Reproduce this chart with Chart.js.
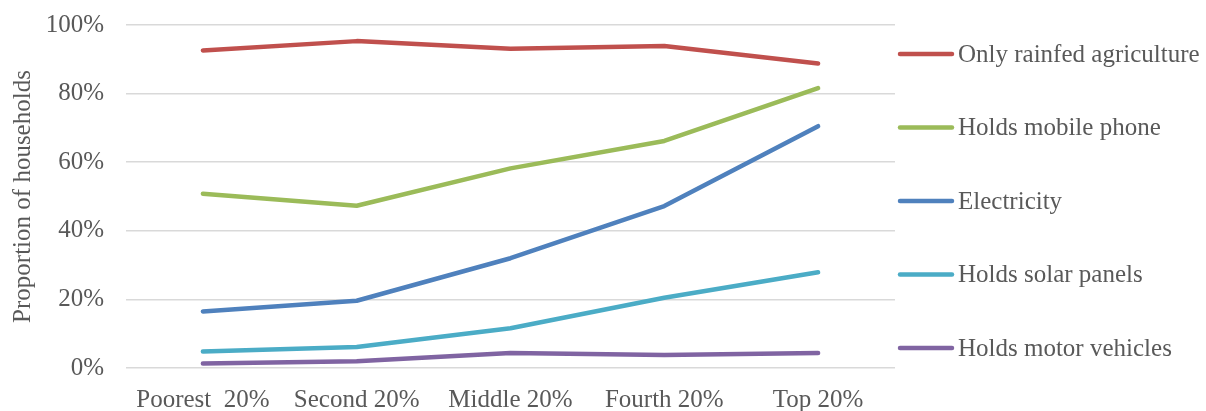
<!DOCTYPE html>
<html>
<head>
<meta charset="utf-8">
<script src="https://cdn.jsdelivr.net/npm/chart.js@4/dist/chart.umd.min.js"></script>
<style>
  html, body { margin: 0; padding: 0; background: #fff; }
  #wrap { width: 1206px; height: 411px; }
</style>
</head>
<body>
<div id="wrap"><canvas id="chart"></canvas></div>
<script>
// categories and series (percent of households)
var categories = ["Poorest  20%", "Second 20%", "Middle 20%", "Fourth 20%", "Top 20%"];
var rainfed = [92.6, 95.3, 93.1, 93.9, 88.8];
var mobile = [50.8, 47.3, 58.2, 66.2, 81.6];
var electricity = [16.5, 19.6, 32.0, 47.2, 70.5];
var solar = [4.8, 6.1, 11.6, 20.5, 27.9];
var motor = [1.3, 2.0, 4.4, 3.8, 4.4];
var seriesNames = ["Only rainfed agriculture", "Holds mobile phone", "Electricity", "Holds solar panels", "Holds motor vehicles"];
var seriesColors = ["#c0504d", "#9bbb59", "#4f81bd", "#4bacc6", "#8064a2"];

var fontFam = "'Liberation Serif', 'DejaVu Serif', serif";
var textColor = "#595959";
var fontSize = 25;

function makeSet(i, values) {
    return {
        label: seriesNames[i],
        data: values,
        borderColor: seriesColors[i],
        backgroundColor: seriesColors[i],
        borderWidth: 4.5,
        borderCapStyle: "round",
        borderJoinStyle: "round",
        pointRadius: 0,
        tension: 0,
        fill: false
    };
}

// legend drawn by hand on the right side
var sideLegend = {
    id: "sideLegend",
    afterDraw: function (chart) {
        var ctx = chart.ctx;
        var x0 = 898, x1 = 954;
        var top = 54, step = 73.5;
        ctx.save();
        ctx.font = fontSize + "px " + fontFam;
        ctx.textBaseline = "middle";
        ctx.lineCap = "round";
        chart.data.datasets.forEach(function (ds, i) {
            var y = top + i * step;
            ctx.strokeStyle = ds.borderColor;
            ctx.lineWidth = 4.5;
            ctx.beginPath();
            ctx.moveTo(x0 + 2, y);
            ctx.lineTo(x1 - 2, y);
            ctx.stroke();
            ctx.fillStyle = textColor;
            ctx.fillText(ds.label, x1 + 4, y + 1);
        });
        ctx.restore();
    }
};

new Chart(document.getElementById("chart"), {
    type: "line",
    data: {
        labels: categories,
        datasets: [
            makeSet(0, rainfed),
            makeSet(1, mobile),
            makeSet(2, electricity),
            makeSet(3, solar),
            makeSet(4, motor)
        ]
    },
    options: {
        responsive: true,
        maintainAspectRatio: false,
        animation: false,
        layout: { padding: { top: 25, right: 311, left: 0, bottom: 0 } },
        plugins: {
            legend: { display: false },
            tooltip: { enabled: false }
        },
        scales: {
            x: {
                offset: true,
                grid: { display: false, drawTicks: false },
                border: { display: false },
                ticks: {
                    color: textColor,
                    font: { family: fontFam, size: fontSize },
                    maxRotation: 0,
                    autoSkip: false,
                    padding: 17
                },
                afterFit: function (s) { s.height = 43; s.paddingLeft = 0; s.paddingRight = 0; }
            },
            y: {
                min: 0,
                max: 100,
                ticks: {
                    stepSize: 20,
                    color: textColor,
                    font: { family: fontFam, size: fontSize },
                    padding: 22,
                    callback: function (v) { return v + "%"; }
                },
                grid: { color: "#d9d9d9", lineWidth: 1.5, drawTicks: false },
                border: { display: false },
                title: {
                    display: true,
                    text: "Proportion of households",
                    color: textColor,
                    font: { family: fontFam, size: fontSize },
                    padding: { top: 8, bottom: 0 }
                },
                afterFit: function (s) { s.width = 126; s.paddingTop = 0; s.paddingBottom = 0; }
            }
        }
    },
    plugins: [sideLegend]
});
</script>
</body>
</html>
